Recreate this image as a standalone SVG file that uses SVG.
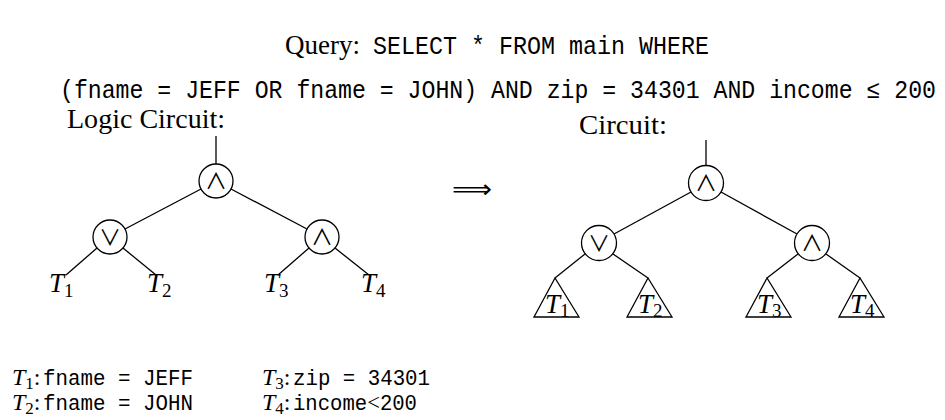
<svg xmlns="http://www.w3.org/2000/svg" width="945" height="420" viewBox="0 0 945 420">
  <style>
    .serif { font-family: "Liberation Serif", "DejaVu Serif", serif; fill: #000; }
    .mono { font-family: "Liberation Mono", "DejaVu Sans Mono", monospace; fill: #000; }
    .it { font-style: italic; }
    .sub { font-size: 19px; font-style: normal; }
    .lbl { font-family: "Liberation Serif", "DejaVu Serif", serif; font-size: 27px; fill: #000; }
    .gate { fill: #fff; stroke: #000; stroke-width: 1.3; }
    .op { font-family: "Noto Sans CJK JP", "DejaVu Sans", sans-serif; font-size: 22px; text-anchor: middle; fill: #000; }
    .wire { stroke: #000; stroke-width: 1.3; fill: none; }
    .tri { fill: #fff; stroke: #000; stroke-width: 1.3; stroke-linejoin: miter; }
    .fn { font-family: "Liberation Serif", "DejaVu Serif", serif; font-size: 24px; fill: #000; }
    .fnsub { font-size: 17px; font-style: normal; }
    .fnmono { font-family: "Liberation Mono", "DejaVu Sans Mono", monospace; font-size: 22px; fill: #000; }
  </style>

  <!-- query heading -->
  <g id="query">
    <text class="serif" x="285" y="54" font-size="27">Query:</text>
    <text class="mono" x="373" y="54" font-size="25" textLength="336" lengthAdjust="spacingAndGlyphs">SELECT * FROM main WHERE</text>
    <text class="mono" x="60" y="98" font-size="25" textLength="876" lengthAdjust="spacingAndGlyphs">(fname = JEFF OR fname = JOHN) AND zip = 34301 AND income ≤ 200</text>
  </g>

  <!-- captions -->
  <text id="caption-logic" class="serif" x="67" y="128" font-size="27" textLength="158" lengthAdjust="spacingAndGlyphs">Logic Circuit:</text>
  <text id="caption-circuit" class="serif" x="579" y="134" font-size="27" textLength="88" lengthAdjust="spacingAndGlyphs">Circuit:</text>

  <!-- implication arrow -->
  <text id="implies" x="452" y="198" font-family="DejaVu Sans, sans-serif" font-size="26" textLength="40" lengthAdjust="spacingAndGlyphs">⟹</text>

  <!-- connectors -->
  <g id="connectors" class="wire">
    <!-- logic circuit -->
    <line x1="216" y1="136" x2="216" y2="164"/>
    <line x1="201" y1="189" x2="125" y2="229"/>
    <line x1="231" y1="189" x2="307" y2="229"/>
    <line x1="97" y1="248" x2="66" y2="275"/>
    <line x1="123" y1="248" x2="156" y2="275"/>
    <line x1="309" y1="248" x2="278" y2="275"/>
    <line x1="335" y1="248" x2="369" y2="275"/>
    <!-- circuit -->
    <line x1="706" y1="140" x2="706" y2="165.5"/>
    <line x1="691" y1="192" x2="614" y2="234"/>
    <line x1="721" y1="192" x2="797" y2="234"/>
    <line x1="585" y1="254" x2="555" y2="278"/>
    <line x1="613" y1="254" x2="648" y2="278"/>
    <line x1="798" y1="254" x2="767" y2="278"/>
    <line x1="826" y1="254" x2="860" y2="278"/>
  </g>

  <!-- logic circuit gates -->
  <g id="l-and-root">
    <circle class="gate" cx="216" cy="181" r="17"/>
    <text class="op" x="216" y="189">∧</text>
  </g>
  <g id="l-or">
    <circle class="gate" cx="110" cy="237" r="17"/>
    <text class="op" x="110" y="245">∨</text>
  </g>
  <g id="l-and">
    <circle class="gate" cx="322" cy="237" r="17"/>
    <text class="op" x="322" y="245">∧</text>
  </g>

  <!-- logic circuit leaves -->
  <g id="l-t1"><text class="lbl" x="49" y="292"><tspan class="it">T</tspan><tspan class="sub" dy="5">1</tspan></text></g>
  <g id="l-t2"><text class="lbl" x="147" y="292"><tspan class="it">T</tspan><tspan class="sub" dy="5">2</tspan></text></g>
  <g id="l-t3"><text class="lbl" x="264" y="292"><tspan class="it">T</tspan><tspan class="sub" dy="5">3</tspan></text></g>
  <g id="l-t4"><text class="lbl" x="361" y="292"><tspan class="it">T</tspan><tspan class="sub" dy="5">4</tspan></text></g>

  <!-- circuit gates -->
  <g id="c-and-root">
    <circle class="gate" cx="706" cy="183" r="17.5"/>
    <text class="op" x="706" y="191">∧</text>
  </g>
  <g id="c-or">
    <circle class="gate" cx="599" cy="243" r="17.5"/>
    <text class="op" x="599" y="251">∨</text>
  </g>
  <g id="c-and">
    <circle class="gate" cx="812" cy="243" r="17.5"/>
    <text class="op" x="812" y="251">∧</text>
  </g>

  <!-- circuit sub-trees -->
  <g id="c-t1">
    <polygon class="tri" points="555,278 534,317 579,317"/>
    <text class="lbl" x="545" y="313"><tspan class="it">T</tspan><tspan class="sub" dy="4">1</tspan></text>
  </g>
  <g id="c-t2">
    <polygon class="tri" points="648,278 627,317 672,317"/>
    <text class="lbl" x="638" y="313"><tspan class="it">T</tspan><tspan class="sub" dy="4">2</tspan></text>
  </g>
  <g id="c-t3">
    <polygon class="tri" points="767,278 746,317 791,317"/>
    <text class="lbl" x="757" y="313"><tspan class="it">T</tspan><tspan class="sub" dy="4">3</tspan></text>
  </g>
  <g id="c-t4">
    <polygon class="tri" points="860,278 839,317 884,317"/>
    <text class="lbl" x="850" y="313"><tspan class="it">T</tspan><tspan class="sub" dy="4">4</tspan></text>
  </g>

  <!-- leaf definitions -->
  <g id="legend">
    <text class="fn" x="12" y="385"><tspan class="it">T</tspan><tspan class="fnsub" dy="4">1</tspan><tspan dy="-4">:</tspan></text>
    <text class="fnmono" x="43" y="385" textLength="150" lengthAdjust="spacingAndGlyphs">fname = JEFF</text>
    <text class="fn" x="12" y="410"><tspan class="it">T</tspan><tspan class="fnsub" dy="4">2</tspan><tspan dy="-4">:</tspan></text>
    <text class="fnmono" x="43" y="410" textLength="150" lengthAdjust="spacingAndGlyphs">fname = JOHN</text>
    <text class="fn" x="262" y="385"><tspan class="it">T</tspan><tspan class="fnsub" dy="4">3</tspan><tspan dy="-4">:</tspan></text>
    <text class="fnmono" x="293" y="385" textLength="137" lengthAdjust="spacingAndGlyphs">zip = 34301</text>
    <text class="fn" x="262" y="410"><tspan class="it">T</tspan><tspan class="fnsub" dy="4">4</tspan><tspan dy="-4">:</tspan></text>
    <text class="fnmono" x="293" y="410" textLength="124" lengthAdjust="spacingAndGlyphs">income<tspan class="fn" font-size="22">&lt;</tspan>200</text>
  </g>
</svg>
